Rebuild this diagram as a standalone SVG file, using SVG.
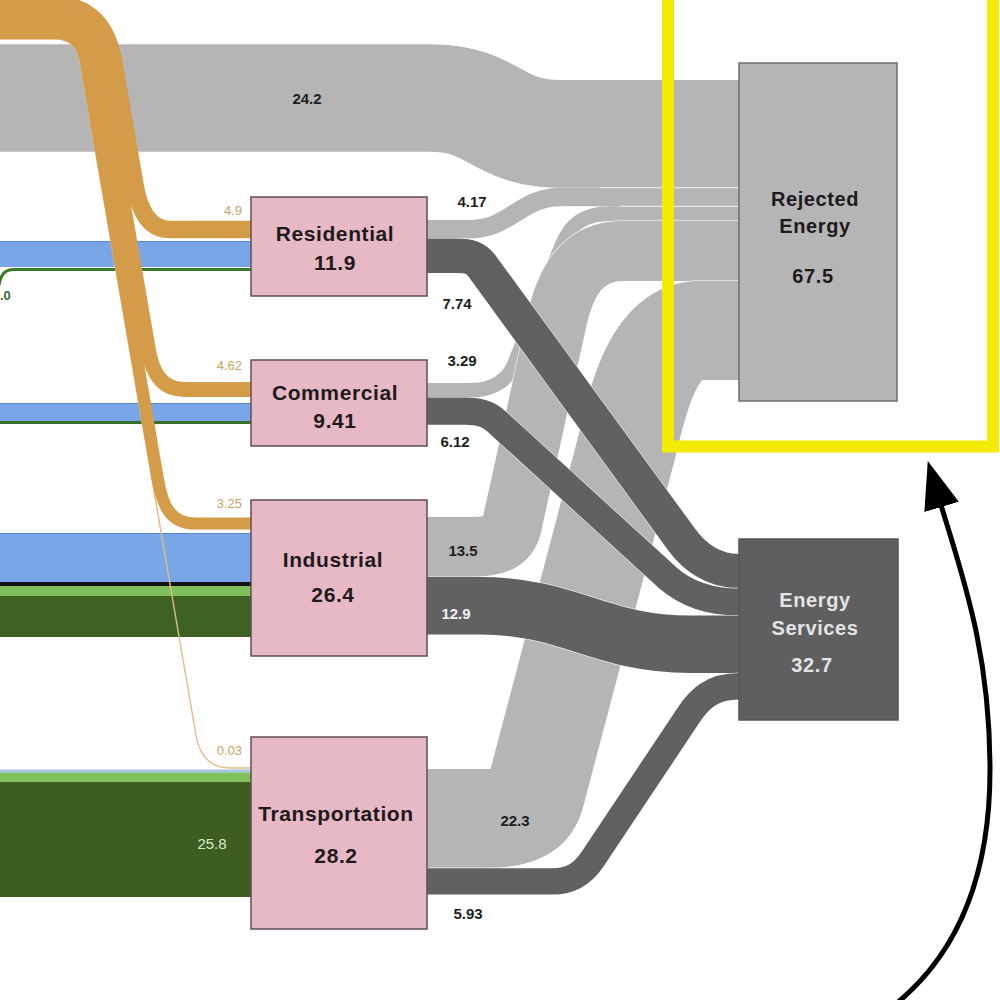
<svg xmlns="http://www.w3.org/2000/svg" width="1000" height="1000" viewBox="0 0 1000 1000">
<style>
.f{fill:none;stroke-linecap:butt;stroke-linejoin:round}
.lg{stroke:#b5b5b5}
.dg{stroke:#616161}
.sep{stroke:#ffffff;stroke-opacity:0.75}
.or{stroke:#d49b48}
.bl{stroke:#78a6e6}
.node{stroke:#5d4d54;stroke-width:1.5}
.pink{fill:#e7b9c5}
.nl{font-family:"Liberation Sans",Arial,sans-serif;font-weight:bold;font-size:21px;fill:#1e1a1c;text-anchor:middle;letter-spacing:0.6px}
.vl{font-family:"Liberation Sans",Arial,sans-serif;font-weight:bold;font-size:15px;fill:#1e1e1e;text-anchor:middle}
.ol{font-family:"Liberation Sans",Arial,sans-serif;font-size:13px;fill:#c9a463;text-anchor:end}
</style>
<defs>
<marker id="ah" markerUnits="userSpaceOnUse" viewBox="0 0 48 36" markerWidth="48" markerHeight="36" refX="2" refY="18" orient="auto">
<path d="M0,0 L48,18 L0,36 z" fill="#000"/>
</marker>
</defs>
<rect width="1000" height="1000" fill="#ffffff"/>

<g id="connectors">
<!-- big rejected flow from left -->
<path class="f lg" stroke-width="107.7" d="M -10,98 H 430 C 495,98 495,133.8 560,133.8 H 739"/>

<!-- left inputs: residential -->
<path class="f bl" stroke-width="26" d="M -10,254 H 251"/>
<path class="f" stroke="#5a84c8" stroke-width="1" d="M -10,241.5 H 251"/>
<path class="f" stroke="#3a7a2c" stroke-width="3" d="M 251,269.5 H 14 C 5,269.5 1,274 -1,285"/>
<!-- commercial -->
<path class="f bl" stroke-width="18" d="M -10,412 H 251"/>
<path class="f" stroke="#5a84c8" stroke-width="1" d="M -10,403.5 H 251"/>
<path class="f" stroke="#3a6e2a" stroke-width="3" d="M -10,422.5 H 251"/>
<!-- industrial -->
<path class="f bl" stroke-width="49" d="M -10,557.5 H 251"/>
<path class="f" stroke="#5a84c8" stroke-width="1" d="M -10,533.5 H 251"/>
<path class="f" stroke="#111111" stroke-width="4" d="M -10,584 H 251"/>
<path class="f" stroke="#80c05c" stroke-width="10" d="M -10,591 H 251"/>
<path class="f" stroke="#3e6221" stroke-width="41" d="M -10,616.5 H 251"/>
<!-- transportation -->
<path class="f" stroke="#a3c6e6" stroke-width="3" d="M -10,771 H 251"/>
<path class="f" stroke="#80c05c" stroke-width="9.5" d="M -10,777.3 H 251"/>
<path class="f" stroke="#3e5e20" stroke-width="115" d="M -10,839.5 H 251"/>

<!-- orange flows -->
<path class="f" stroke="#dfbc86" stroke-width="1.4" d="M -10,39 H 55 C 70,39 78,48 80,62 L 196,735 C 199,752 208,768 230,768 H 251"/>
<path class="f or" stroke-width="12.2" d="M -10,32.9 H 55 C 76,32.9 84,46 86,62 L 158,480 C 162.3,505 170,523.5 195,523.5 H 251"/>
<path class="f or" stroke-width="15.2" d="M -10,20.4 H 55 C 84,20.4 95,40 98.6,62 L 148.3,350 C 151.7,370 160,389.5 185,389.5 H 251"/>
<path class="f or" stroke-width="17.5" d="M -10,5 H 55 C 92,5 108,30 113.8,62 L 135,185 C 138.2,204 146,229.5 170,229.5 H 251"/>

<!-- rejected flows from sectors -->
<path class="f lg" stroke-width="18.6" d="M 427,229.3 H 468 C 512,229.3 518,197 562,197 H 739"/>
<path class="f lg" stroke-width="14.6" d="M 427,390.3 H 470 C 495,390.3 510,378 516,360 L 562,245 C 570,226 582,213.6 610,213.6 H 739"/>
<path class="f sep" stroke-width="61.5" d="M 427,547 H 470 C 500,547 510,540 513,520 L 557,320 C 565,283 582,250.9 622,250.9 H 739"/>
<path class="f lg" stroke-width="60" d="M 427,547 H 470 C 500,547 510,540 513,520 L 557,320 C 565,283 582,250.9 622,250.9 H 739"/>
<path class="f sep" stroke-width="100.7" d="M 427,818.6 H 485 C 515,818.6 530,812 535,795 L 626,450 C 636,410 650,330.5 700,330.5 H 739"/>
<path class="f lg" stroke-width="99.2" d="M 427,818.6 H 485 C 515,818.6 530,812 535,795 L 626,450 C 636,410 650,330.5 700,330.5 H 739"/>
<path class="f sep" stroke-width="1" d="M 600,187.7 H 739 M 620,206.3 H 739"/>

<!-- energy services flows -->
<path class="f sep" stroke-width="35.6" d="M 427,255.8 H 455 C 470,255.8 476,258 482,266 L 682,540 C 693,555 712,571.2 739,571.2"/>
<path class="f dg" stroke-width="34.4" d="M 427,255.8 H 455 C 470,255.8 476,258 482,266 L 682,540 C 693,555 712,571.2 739,571.2"/>
<path class="f sep" stroke-width="28.4" d="M 427,411.2 H 465 C 480,411.2 488,414 496,421 L 668,578 C 684,592 705,602 739,602"/>
<path class="f dg" stroke-width="27.2" d="M 427,411.2 H 465 C 480,411.2 488,414 496,421 L 668,578 C 684,592 705,602 739,602"/>
<path class="f sep" stroke-width="58.6" d="M 427,605.7 H 480 C 570,605.7 600,644.3 690,644.3 H 739"/>
<path class="f dg" stroke-width="57.4" d="M 427,605.7 H 480 C 570,605.7 600,644.3 690,644.3 H 739"/>
<path class="f sep" stroke-width="27.6" d="M 427,881.4 H 553 C 572,881.4 583,873 592,860 L 688,716 C 699,699 712,686.2 739,686.2"/>
<path class="f dg" stroke-width="26.4" d="M 427,881.4 H 553 C 572,881.4 583,873 592,860 L 688,716 C 699,699 712,686.2 739,686.2"/>

<!-- flow labels -->
<text class="vl" x="307" y="104">24.2</text>
<text class="vl" x="472" y="207">4.17</text>
<text class="vl" x="457" y="309">7.74</text>
<text class="vl" x="462" y="366">3.29</text>
<text class="vl" x="455" y="447">6.12</text>
<text class="vl" x="463" y="556">13.5</text>
<text class="vl" x="456" y="619" style="fill:#f2f2f2">12.9</text>
<text class="vl" x="515" y="826">22.3</text>
<text class="vl" x="468" y="919">5.93</text>
<text class="ol" x="242" y="215">4.9</text>
<text class="ol" x="242" y="370">4.62</text>
<text class="ol" x="242" y="508">3.25</text>
<text class="ol" x="242" y="755">0.03</text>
<text x="0" y="300" style="font-family:'Liberation Sans',Arial,sans-serif;font-weight:bold;font-size:13px;fill:#44663a">.0</text>
<text x="212" y="849" style="font-family:'Liberation Sans',Arial,sans-serif;font-size:15px;fill:#d6eccd;text-anchor:middle">25.8</text>
</g>

<g id="node-residential">
<rect class="node pink" x="251" y="197" width="176" height="99"/>
<text class="nl" x="335" y="241">Residential</text>
<text class="nl" x="335" y="270">11.9</text>
</g>
<g id="node-commercial">
<rect class="node pink" x="251" y="360" width="176" height="86"/>
<text class="nl" x="335" y="400">Commercial</text>
<text class="nl" x="335" y="428">9.41</text>
</g>
<g id="node-industrial">
<rect class="node pink" x="251" y="500" width="176" height="156"/>
<text class="nl" x="333" y="567">Industrial</text>
<text class="nl" x="333" y="602">26.4</text>
</g>
<g id="node-transportation">
<rect class="node pink" x="251" y="737" width="176" height="192"/>
<text class="nl" x="336" y="821">Transportation</text>
<text class="nl" x="336" y="863">28.2</text>
</g>
<g id="node-rejected-energy">
<rect x="739" y="63" width="158" height="338" fill="#b5b5b5" stroke="#6e6e6e" stroke-width="1.5"/>
<text class="nl" x="815" y="206" style="font-size:20px">Rejected</text>
<text class="nl" x="815" y="233" style="font-size:20px">Energy</text>
<text class="nl" x="813" y="283" style="font-size:20px">67.5</text>
</g>
<g id="node-energy-services">
<rect x="739" y="539" width="159" height="181" fill="#5f5f5f" stroke="#555555" stroke-width="1.5"/>
<text class="nl" x="815" y="607" style="font-size:20px;fill:#e4e4e4">Energy</text>
<text class="nl" x="815" y="635" style="font-size:20px;fill:#e4e4e4">Services</text>
<text class="nl" x="812" y="672" style="font-size:20px;fill:#e4e4e4">32.7</text>
</g>

<g id="annotation">
<rect x="668" y="-20" width="325" height="466.5" fill="none" stroke="#f4ec00" stroke-width="12"/>
<path d="M 897,1003 C 955,955 990,880 990,770 C 990,650 962,575 941,505" fill="none" stroke="#000" stroke-width="5" marker-end="url(#ah)"/>
</g>
</svg>
